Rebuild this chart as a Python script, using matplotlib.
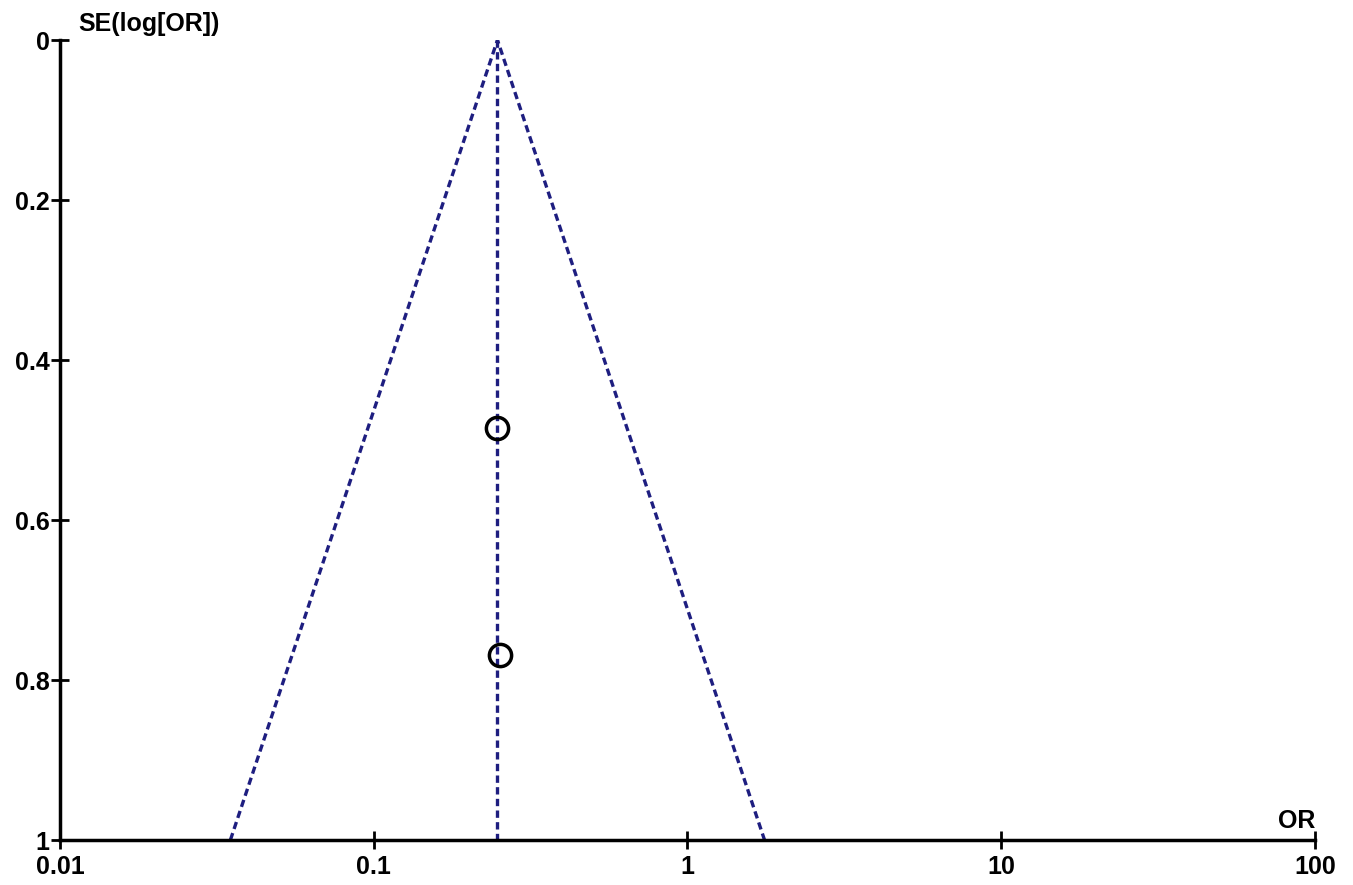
import numpy as np
import matplotlib
matplotlib.use("Agg")
from matplotlib import pyplot as plt

# dados do funnel plot
or_pooled = 0.248
se_max = 1.0
estudos_or = [0.247, 0.252]
estudos_se = [0.485, 0.769]

x_ticks = [0.01, 0.1, 1, 10, 100]
x_labels = ["0.01", "0.1", "1", "10", "100"]
y_ticks = [0, 0.2, 0.4, 0.6, 0.8, 1]
y_labels = ["0", "0.2", "0.4", "0.6", "0.8", "1"]

plt.rcParams['font.family'] = ['Liberation Sans', 'DejaVu Sans']

fig = plt.figure(figsize=(13.53, 8.85), dpi=100)
ax = fig.add_axes([0.0443, 0.0508, 0.9276, 0.904])

cor = "#1e1e80"
estilo = dict(color=cor, lw=2.4, ls=(0, (2.2, 1.3)))

# funil de 95%
lim_inf = np.exp(np.log(or_pooled) - 1.96 * se_max)
lim_sup = np.exp(np.log(or_pooled) + 1.96 * se_max)
ax.plot([lim_inf, or_pooled, lim_sup], [se_max, 0, se_max], **estilo)
ax.plot([or_pooled, or_pooled], [0, se_max], **estilo)

ax.plot(estudos_or, estudos_se, ls="none", marker="o", ms=16,
        mfc="none", mec="black", mew=2.5)

ax.set_xscale("log")
ax.set_xlim(0.01, 100)
ax.set_ylim(1, 0)
ax.set_xticks(x_ticks)
ax.set_xticklabels(x_labels)
ax.minorticks_off()
ax.set_yticks(y_ticks)
ax.set_yticklabels(y_labels)

for s in ["top", "right"]:
    ax.spines[s].set_visible(False)
for s in ["left", "bottom"]:
    ax.spines[s].set_linewidth(2.5)

ax.tick_params(axis="both", direction="inout", length=13, width=2,
               labelsize=18)
ax.tick_params(axis="x", pad=4)
ax.tick_params(axis="y", pad=1)
for lbl in ax.get_xticklabels() + ax.get_yticklabels():
    lbl.set_fontweight("bold")

fig.text(78 / 1353, 1 - 24 / 885, "SE(log[OR])", fontsize=18,
         fontweight="bold", va="center", ha="left")
fig.text(1297 / 1353, 1 - 821 / 885, "OR", fontsize=18,
         fontweight="bold", va="center", ha="center")

fig.savefig("out.png", dpi=100)
